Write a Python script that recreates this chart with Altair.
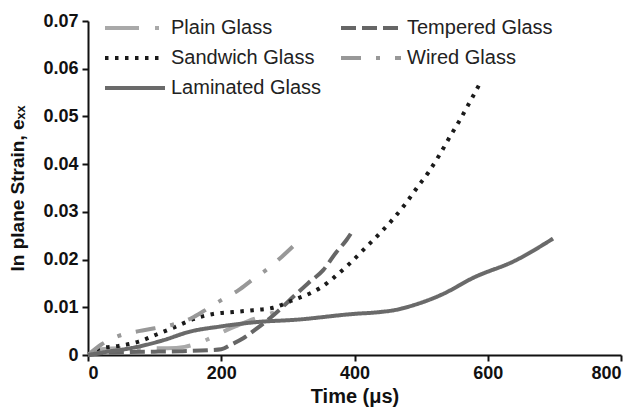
import altair as alt
import pandas as pd

series_names = ["Plain Glass", "Tempered Glass", "Sandwich Glass", "Wired Glass", "Laminated Glass"]

plain_t = [0, 20, 50, 90, 120, 145, 165, 180, 193, 208, 225, 248, 270, 290]
plain_e = [0, 0.0012, 0.0014, 0.0014, 0.0014, 0.0017, 0.0025, 0.0033, 0.0042, 0.0052, 0.0062, 0.0075, 0.0085, 0.0095]

tempered_t = [0, 30, 60, 100, 140, 180, 200, 215, 233, 250, 273, 290, 308, 330, 353, 373, 388, 398]
tempered_e = [0, 0.0005, 0.0006, 0.0007, 0.0008, 0.0010, 0.0012, 0.0022, 0.0035, 0.0052, 0.0077, 0.0098, 0.0122, 0.0150, 0.0178, 0.0216, 0.0241, 0.0262]

sandwich_t = [0, 18, 46, 76, 103, 131, 158, 188, 218, 248, 278, 308, 333, 348, 373, 393, 416, 436,
              456, 476, 493, 511, 527, 543, 558, 573, 587]
sandwich_e = [0, 0.0014, 0.0019, 0.0028, 0.0043, 0.0059, 0.0075, 0.0086, 0.0090, 0.0094, 0.0099, 0.0115,
              0.0129, 0.0140, 0.0167, 0.0192, 0.0224, 0.0252, 0.0282, 0.0316, 0.0349, 0.0383, 0.0418,
              0.0457, 0.0492, 0.0530, 0.0566]

wired_t = [0, 20, 46, 76, 100, 128, 155, 176, 200, 226, 246, 270, 291, 311]
wired_e = [0, 0.0022, 0.0040, 0.0050, 0.0056, 0.0064, 0.0077, 0.0094, 0.0115, 0.0136, 0.0157, 0.0181, 0.0206, 0.0232]

laminated_t = [0, 30, 63, 113, 153, 200, 253, 313, 398, 438, 460, 490, 530, 580, 640, 698]
laminated_e = [0, 0.0007, 0.0014, 0.0031, 0.0049, 0.0060, 0.0069, 0.0074, 0.0086, 0.0090, 0.0094, 0.0105,
               0.0126, 0.0163, 0.0197, 0.0244]

x_ticks = [0, 200, 400, 600, 800]
y_ticks = [0, 0.01, 0.02, 0.03, 0.04, 0.05, 0.06, 0.07]

colors = ["#a9a9a9", "#666666", "#1a1a1a", "#989898", "#6a6a6a"]
dashes = [[34, 16, 4, 16], [15, 6], [3.5, 6.5], [20, 15, 4, 15], [1, 0]]

rows = []
for name, ts, es in [
    ("Plain Glass", plain_t, plain_e),
    ("Tempered Glass", tempered_t, tempered_e),
    ("Sandwich Glass", sandwich_t, sandwich_e),
    ("Wired Glass", wired_t, wired_e),
    ("Laminated Glass", laminated_t, laminated_e),
]:
    for i, (t, e) in enumerate(zip(ts, es)):
        rows.append({"Glass": name, "t": t, "e": e, "order": i})
df = pd.DataFrame(rows)

FONT = "Liberation Sans"


def make_legend():
    return alt.Legend(title=None, orient="none", legendX=15, legendY=-5, direction="horizontal",
                      columns=2, symbolType="M-1,0H5", symbolSize=400, symbolStrokeWidth=4,
                      labelFontSize=20, labelFont=FONT, labelColor="#222222", labelOffset=44,
                      rowPadding=8, columnPadding=11)


chart = alt.Chart(df).mark_line(strokeWidth=4, interpolate="monotone").encode(
    x=alt.X("t:Q", scale=alt.Scale(domain=[0, 800], nice=False),
            axis=alt.Axis(values=x_ticks, title="Time (μs)")),
    y=alt.Y("e:Q", scale=alt.Scale(domain=[0, 0.07], nice=False),
            axis=alt.Axis(values=y_ticks, title="In plane Strain, eₓₓ",
                          labelExpr="datum.value == 0 ? '0' : format(datum.value, '.2f')")),
    color=alt.Color("Glass:N", scale=alt.Scale(domain=series_names, range=colors), legend=make_legend()),
    strokeDash=alt.StrokeDash("Glass:N", scale=alt.Scale(domain=series_names, range=dashes),
                              legend=make_legend()),
    order="order:Q",
).properties(
    width=533, height=334,
    autosize=alt.AutoSizeParams(type="none"),
    padding={"left": 88, "top": 21, "right": 17, "bottom": 59},
).configure_view(stroke=None).configure_axis(
    grid=False, domainColor="#111111", domainWidth=2, tickColor="#111111", tickWidth=2,
    tickSize=6, labelFont=FONT, labelFontWeight="bold", labelFontSize=18, labelColor="#111111",
    titleFont=FONT, titleFontWeight="bold", titleColor="#111111",
).configure_axisX(labelPadding=3, titlePadding=4, titleFontSize=20).configure_axisY(
    labelPadding=4, titlePadding=15, titleFontSize=19)

chart.save("out.html", embed_options={"renderer": "svg", "actions": False})
